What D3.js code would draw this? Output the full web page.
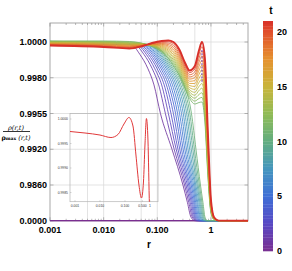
<!DOCTYPE html>
<html>
<head>
<meta charset="utf-8">
<script src="https://cdn.jsdelivr.net/npm/d3@7"></script>
<style>
  body { margin: 0; background: #fff; }
  svg { display: block; font-family: "Liberation Sans", Arial, sans-serif; }
</style>
</head>
<body>
<div id="chart"></div>
<script>
// axis ticks
const yTicks = [0, 0.986, 0.992, 0.9955, 0.998, 1.0];
const yTickLabels = ["0.0000", "0.9860", "0.9920", "0.9955", "0.9980", "1.0000"];
const xTicks = [0.001, 0.01, 0.1, 1];
const xTickLabels = ["0.001", "0.010", "0.100", "1"];
const xGrid = [0.005, 0.01, 0.05, 0.1, 0.5, 1];
const barTicks = [0, 5, 10, 15, 20];

// colour bar stops (t -> colour)
const colorT = [0, 2.5, 5, 7.5, 10, 12.5, 15, 17.5, 20, 21];
const colorHex = ["#7a2f90", "#5848c4", "#3f6fd6", "#4596be", "#62ad80", "#8fbb56", "#c9b53c", "#e5922f", "#e1502b", "#d8302a"];

// t = 0 curve sits on zero
const zeroCurveR = [0.001, 5];
const zeroCurveV = [0, 0];

// early curves (monotone): r where each one reaches the shared levels
const earlyT = [0.7, 1.4, 2.1, 2.8, 3.5, 4.2, 4.9, 5.6, 6.3, 7.0, 7.7, 8.4, 9.1, 9.8, 10.5];
const earlyFlat = [0.9999, 0.99991, 0.99992, 0.99993, 0.99994, 0.99995, 0.99996, 0.99997, 0.99998, 0.99999, 1.0, 1.00001, 1.00002, 1.00003, 1.00004];
const earlyLevels = [0.99985, 0.9993, 0.9985, 0.9975, 0.9955, 0.992, 0.986, 0.5, 0.1, 0];
const earlyR = [
  [0.0323, 0.0475, 0.067, 0.0867, 0.1144, 0.1876, 0.3007, 0.3647, 0.424, 0.503],
  [0.0372, 0.0565, 0.0806, 0.1061, 0.1414, 0.2063, 0.322, 0.387, 0.4483, 0.5298],
  [0.0408, 0.0626, 0.09, 0.1205, 0.1607, 0.2247, 0.342, 0.4095, 0.47, 0.5527],
  [0.0438, 0.0684, 0.0995, 0.1342, 0.18, 0.2427, 0.3632, 0.4313, 0.4924, 0.575],
  [0.0469, 0.0743, 0.1084, 0.1481, 0.1994, 0.262, 0.384, 0.4521, 0.5138, 0.6],
  [0.05, 0.0803, 0.1175, 0.162, 0.2189, 0.282, 0.404, 0.474, 0.5366, 0.6237],
  [0.0531, 0.086, 0.1267, 0.1764, 0.2386, 0.3033, 0.4276, 0.4965, 0.5598, 0.645],
  [0.0562, 0.0921, 0.1364, 0.1916, 0.2598, 0.3261, 0.4502, 0.5203, 0.5848, 0.6705],
  [0.0594, 0.0981, 0.1469, 0.2072, 0.282, 0.3494, 0.474, 0.5456, 0.6105, 0.6975],
  [0.0626, 0.1048, 0.1566, 0.2228, 0.3046, 0.3743, 0.4985, 0.5692, 0.6344, 0.7218],
  [0.0658, 0.1112, 0.1671, 0.2396, 0.3277, 0.4007, 0.5224, 0.5976, 0.6595, 0.747],
  [0.069, 0.1175, 0.1779, 0.2577, 0.3523, 0.4295, 0.5504, 0.6237, 0.6888, 0.7763],
  [0.0727, 0.1246, 0.1892, 0.2747, 0.3776, 0.4597, 0.5774, 0.651, 0.7157, 0.8028],
  [0.0758, 0.1313, 0.201, 0.2942, 0.404, 0.4903, 0.6079, 0.68, 0.7439, 0.8312],
  [0.0796, 0.139, 0.2134, 0.314, 0.4331, 0.5253, 0.6371, 0.7096, 0.773, 0.86]
];

// late curves (dip and peak): values on a shared r grid
const lateR = [0.001, 0.01, 0.03, 0.05, 0.08, 0.12, 0.16, 0.2, 0.26, 0.33, 0.4, 0.5, 0.6, 0.68, 0.77, 0.88, 1.0, 1.15, 1.4, 5];
const lateT = [11.25, 12, 12.75, 13.5, 14.25, 15, 15.75, 16.5, 17.25, 18, 18.75, 19.5, 20.25, 21];
const lateV = [
  [1.000056, 1.000056, 1.000028, 0.999944, 0.999748, 0.999441, 0.999106, 0.998714, 0.998099, 0.997213, 0.996549, 0.996164, 0.996269, 0.996304, 0.994668, 0.987176, 0.2137, 0.0262, 0.001, 0],
  [1.000036, 1.00003, 0.999998, 0.999929, 0.999764, 0.999489, 0.999181, 0.998813, 0.998211, 0.997353, 0.996699, 0.996369, 0.996552, 0.996627, 0.99515, 0.987731, 0.2413, 0.0312, 0.001, 0],
  [1.000017, 1.000004, 0.999968, 0.999914, 0.999779, 0.999535, 0.999256, 0.998912, 0.998323, 0.997493, 0.99685, 0.996573, 0.996834, 0.99695, 0.995594, 0.988287, 0.2689, 0.0359, 0.001, 0],
  [0.999998, 0.999979, 0.999937, 0.999899, 0.999794, 0.999583, 0.999331, 0.999011, 0.998435, 0.997633, 0.997001, 0.996778, 0.997117, 0.997273, 0.995938, 0.98884, 0.2965, 0.0408, 0.001, 0],
  [0.999979, 0.999952, 0.999908, 0.999884, 0.999809, 0.99963, 0.999406, 0.99911, 0.998547, 0.997773, 0.997152, 0.996982, 0.997399, 0.997595, 0.996283, 0.989396, 0.3241, 0.0458, 0.002, 0],
  [0.999959, 0.999927, 0.999878, 0.999869, 0.999824, 0.999677, 0.999482, 0.999209, 0.998658, 0.997913, 0.997302, 0.997187, 0.997681, 0.997918, 0.996627, 0.989951, 0.3516, 0.0505, 0.002, 0],
  [0.99994, 0.999901, 0.999847, 0.999854, 0.999839, 0.999725, 0.999557, 0.999308, 0.99877, 0.998044, 0.997452, 0.997391, 0.997964, 0.998194, 0.996971, 0.990507, 0.3792, 0.0554, 0.002, 0],
  [0.999921, 0.999875, 0.999817, 0.999839, 0.999854, 0.999772, 0.999632, 0.999406, 0.998882, 0.998155, 0.997603, 0.997595, 0.998198, 0.998452, 0.997315, 0.99106, 0.4068, 0.0604, 0.002, 0],
  [0.999901, 0.99985, 0.999787, 0.999824, 0.999869, 0.999819, 0.999708, 0.999505, 0.998994, 0.998267, 0.997754, 0.997799, 0.998424, 0.99871, 0.997659, 0.991616, 0.4344, 0.0654, 0.003, 0],
  [0.999881, 0.999824, 0.999757, 0.999809, 0.999884, 0.999867, 0.999783, 0.999604, 0.999106, 0.998379, 0.997904, 0.998005, 0.99865, 0.998968, 0.998005, 0.9921, 0.462, 0.0701, 0.003, 0],
  [0.999862, 0.999798, 0.999727, 0.999794, 0.999899, 0.999914, 0.999858, 0.999703, 0.999217, 0.998491, 0.998046, 0.998168, 0.998875, 0.999226, 0.99828, 0.992424, 0.4895, 0.075, 0.003, 0],
  [0.999843, 0.999772, 0.999697, 0.999779, 0.999914, 0.999961, 0.999933, 0.999802, 0.999329, 0.998603, 0.998166, 0.998331, 0.999101, 0.999484, 0.998555, 0.992747, 0.5171, 0.08, 0.003, 0],
  [0.999824, 0.999746, 0.999667, 0.999764, 0.999929, 1.000008, 1.000008, 0.999901, 0.999441, 0.998714, 0.998287, 0.998495, 0.999327, 0.999742, 0.998831, 0.993071, 0.5447, 0.0847, 0.004, 0],
  [0.999804, 0.999721, 0.999637, 0.999748, 0.999944, 1.000056, 1.000084, 1.0, 0.999553, 0.998826, 0.998407, 0.998658, 0.999553, 1.0, 0.999106, 0.993395, 0.5723, 0.0896, 0.004, 0]
];

// dashed marker at the outer peak
const markerR = [0.68, 0.68];
const markerV = [0.999553, 0.997633];

// inset curve
const insetR = [0.00063, 0.00251, 0.01, 0.0275, 0.0525, 0.0912, 0.1445, 0.209, 0.275, 0.363, 0.457, 0.55, 0.631, 0.724, 0.832, 0.955, 1.096];
const insetV = [0.999745, 0.999714, 0.999673, 0.999622, 0.999684, 0.999898, 1.000031, 0.999857, 0.999265, 0.998653, 0.998388, 0.998714, 0.999469, 1.00001, 0.999571, 0.998245, 0.997735];
const insetYTicks = [1.0, 0.9995, 0.999, 0.9985];
const insetYLabels = ["1.0000", "0.9995", "0.9990", "0.9985"];
const insetXTicks = [0.001, 0.01, 0.1, 0.5, 1];
const insetXLabels = ["0.001", "0.010", "0.100", "0.500", "1"];

const W = 292, H = 271;
const plot = { left: 50, right: 248, top: 23, bottom: 220.75 };

const x = d3.scaleLog().domain([0.001, 4.9]).range([plot.left, plot.right]);
const y = d3.scaleLinear()
  .domain([0, 0.986, 0.992, 0.9955, 0.998, 1.0, 1.00106])
  .range([220.75, 185, 149.25, 113.5, 77.75, 42, 23]);
const color = d3.scaleLinear().domain(colorT).range(colorHex);

const svg = d3.select("#chart").append("svg")
  .attr("width", W).attr("height", H);

svg.append("defs").append("clipPath").attr("id", "clipMain")
  .append("rect")
  .attr("x", plot.left).attr("y", plot.top)
  .attr("width", plot.right - plot.left).attr("height", plot.bottom - plot.top + 1);

// grid
svg.append("g").selectAll("line").data(xGrid).enter().append("line")
  .attr("x1", d => x(d)).attr("x2", d => x(d))
  .attr("y1", plot.top).attr("y2", plot.bottom)
  .attr("stroke", "#dcdcdc").attr("stroke-width", 0.8);
svg.append("g").selectAll("line").data(yTicks.slice(1)).enter().append("line")
  .attr("x1", plot.left).attr("x2", plot.right)
  .attr("y1", d => y(d)).attr("y2", d => y(d))
  .attr("stroke", "#dcdcdc").attr("stroke-width", 0.8);

// frame + ticks
svg.append("rect")
  .attr("x", plot.left).attr("y", plot.top)
  .attr("width", plot.right - plot.left).attr("height", plot.bottom - plot.top)
  .attr("fill", "none").attr("stroke", "#a8a8a8").attr("stroke-width", 1);

const minorX = [];
[0.001, 0.01, 0.1, 1].forEach(dec => {
  for (let m = 2; m <= 9; m++) if (dec * m <= 4.9) minorX.push(dec * m);
});
const tickG = svg.append("g").attr("stroke", "#8a8a8a").attr("stroke-width", 0.6);
[[xTicks, 3.5], [minorX, 2]].forEach(([arr, len]) => {
  arr.forEach(v => {
    tickG.append("line").attr("x1", x(v)).attr("x2", x(v)).attr("y1", plot.bottom).attr("y2", plot.bottom - len);
    tickG.append("line").attr("x1", x(v)).attr("x2", x(v)).attr("y1", plot.top).attr("y2", plot.top + len);
  });
});
yTicks.forEach(v => {
  tickG.append("line").attr("x1", plot.left).attr("x2", plot.left + 3.5).attr("y1", y(v)).attr("y2", y(v));
  tickG.append("line").attr("x1", plot.right).attr("x2", plot.right - 3.5).attr("y1", y(v)).attr("y2", y(v));
});

// tick labels
svg.append("g").selectAll("text").data(yTicks).enter().append("text")
  .attr("x", 47).attr("y", d => y(d) + 3.2)
  .attr("text-anchor", "end").attr("font-size", 9).attr("font-weight", "bold")
  .text((d, i) => yTickLabels[i]);
svg.append("g").selectAll("text").data(xTicks).enter().append("text")
  .attr("x", d => x(d)).attr("y", 232.5)
  .attr("text-anchor", "middle").attr("font-size", 9).attr("font-weight", "bold")
  .text((d, i) => xTickLabels[i]);

svg.append("text").attr("x", 149).attr("y", 248)
  .attr("text-anchor", "middle").attr("font-size", 10).attr("font-weight", "bold").text("r");

// y label as a fraction
const yl = svg.append("g");
yl.append("text").attr("x", 16).attr("y", 129.5).attr("text-anchor", "middle")
  .attr("font-size", 6.5).attr("font-style", "italic").attr("font-family", "'DejaVu Serif', serif")
  .text("ρ(r,t)");
yl.append("line").attr("x1", 3).attr("x2", 30).attr("y1", 131.5).attr("y2", 131.5)
  .attr("stroke", "#000").attr("stroke-width", 0.8);
const den = yl.append("text").attr("x", 16).attr("y", 139.5).attr("text-anchor", "middle")
  .attr("font-size", 6.5).attr("font-family", "'DejaVu Serif', serif");
den.append("tspan").attr("font-weight", "bold").text("ρ");
den.append("tspan").attr("font-size", 4.5).attr("font-weight", "bold").text("max");
den.append("tspan").attr("font-style", "italic").text(" (r,t)");

// curves
const line = d3.line().x(d => x(d[0])).y(d => y(d[1])).curve(d3.curveMonotoneX);
const curves = [];
curves.push({ t: 0, pts: zeroCurveR.map((r, i) => [r, zeroCurveV[i]]) });
earlyR.forEach((rs, k) => {
  const pts = [[0.001, earlyFlat[k]]];
  rs.forEach((r, i) => pts.push([r, earlyLevels[i]]));
  pts.push([5, 0]);
  curves.push({ t: earlyT[k], pts });
});
lateV.forEach((vs, j) => {
  curves.push({ t: lateT[j], pts: lateR.map((r, i) => [r, vs[i]]) });
});

const cg = svg.append("g").attr("clip-path", "url(#clipMain)");
cg.selectAll("path").data(curves).enter().append("path")
  .attr("d", d => line(d.pts))
  .attr("fill", "none")
  .attr("stroke", d => color(d.t))
  .attr("stroke-width", d => d.t === 21 ? 1.9 : (d.t === 0 ? 1.4 : 0.85));

cg.append("path")
  .attr("d", d3.line().x(d => x(d[0])).y(d => y(d[1]))(markerR.map((r, i) => [r, markerV[i]])))
  .attr("stroke", "#6a3bb0").attr("stroke-width", 1).attr("stroke-dasharray", "2,1.3");

// inset
const inset = { left: 70, right: 158, top: 113.5, bottom: 201.7 };
const ix = d3.scaleLog().domain([0.00063, 2.1]).range([inset.left, inset.right]);
const iy = d3.scaleLinear().domain([0.9985, 1.0]).range([192.5, 119]);

svg.append("defs").append("clipPath").attr("id", "clipInset")
  .append("rect")
  .attr("x", inset.left).attr("y", inset.top)
  .attr("width", inset.right - inset.left).attr("height", inset.bottom - inset.top);

svg.append("rect")
  .attr("x", inset.left).attr("y", inset.top)
  .attr("width", inset.right - inset.left).attr("height", inset.bottom - inset.top)
  .attr("fill", "none").attr("stroke", "#b4b4b4").attr("stroke-width", 0.7);

const ig = svg.append("g").attr("stroke", "#999").attr("stroke-width", 0.4);
insetYTicks.forEach(v => ig.append("line").attr("x1", inset.left).attr("x2", inset.left + 1.5).attr("y1", iy(v)).attr("y2", iy(v)));
insetXTicks.forEach(v => ig.append("line").attr("x1", ix(v)).attr("x2", ix(v)).attr("y1", inset.bottom).attr("y2", inset.bottom - 1.5));

svg.append("g").selectAll("text").data(insetYTicks).enter().append("text")
  .attr("x", 68).attr("y", d => iy(d) + 1.2)
  .attr("text-anchor", "end").attr("font-size", 3.4).attr("fill", "#333")
  .text((d, i) => insetYLabels[i]);
svg.append("g").selectAll("text").data(insetXTicks).enter().append("text")
  .attr("x", d => ix(d)).attr("y", 207)
  .attr("text-anchor", "middle").attr("font-size", 3.4).attr("fill", "#333")
  .text((d, i) => insetXLabels[i]);

const iline = d3.line().x(d => ix(d[0])).y(d => iy(d[1])).curve(d3.curveMonotoneX);
svg.append("path").attr("clip-path", "url(#clipInset)")
  .attr("d", iline(insetR.map((r, i) => [r, insetV[i]])))
  .attr("fill", "none").attr("stroke", "#e0393a").attr("stroke-width", 1);

// colour bar
const by = d3.scaleLinear().domain([0, 21]).range([251, 21]);
const steps = d3.range(0, 21, 0.25);
svg.append("g").selectAll("rect").data(steps).enter().append("rect")
  .attr("x", 263).attr("width", 10)
  .attr("y", d => by(d + 0.25)).attr("height", d => by(d) - by(d + 0.25) + 0.3)
  .attr("fill", d => color(d + 0.125));
svg.append("g").selectAll("text").data(barTicks).enter().append("text")
  .attr("x", 277).attr("y", d => by(d) + 3.2)
  .attr("font-size", 9).attr("font-weight", "bold")
  .text(d => d);
svg.append("text").attr("x", 271).attr("y", 13.5).attr("text-anchor", "middle")
  .attr("font-size", 10).attr("font-weight", "bold").text("t");
</script>
</body>
</html>
